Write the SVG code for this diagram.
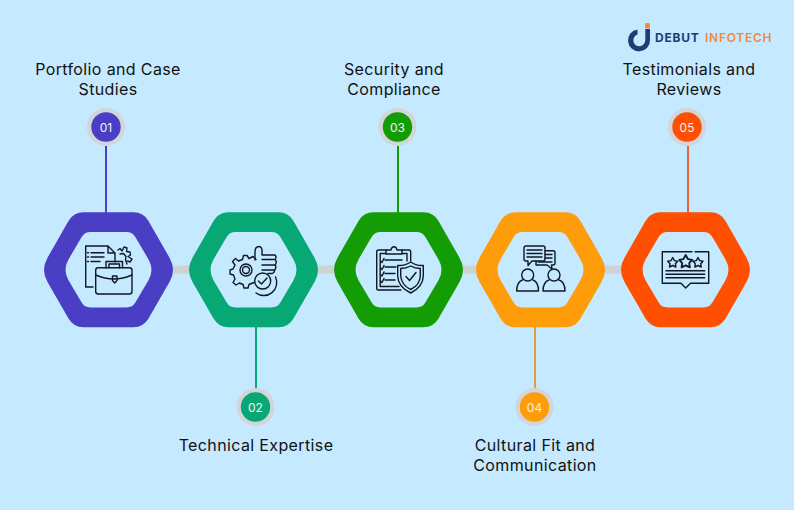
<svg xmlns="http://www.w3.org/2000/svg" width="794" height="510" viewBox="0 0 794 510">
<style>
.lbl{font-family:"Inter","Noto Sans","Liberation Sans",sans-serif;font-size:16px;letter-spacing:.37px;fill:#111;text-anchor:middle}
.num{font-family:"Inter","Noto Sans","Liberation Sans",sans-serif;font-size:12px;fill:#f2f2f8;text-anchor:middle}
.ring{fill:#d0d6da}
.bar{fill:#cdd3d3}
.ic{fill:none;stroke:#101826;stroke-width:1.4;stroke-linejoin:round;stroke-linecap:round}
.stem{stroke-width:2;fill:none}
.logo{font-family:"Inter","Liberation Sans",sans-serif;font-size:12px;font-weight:700;letter-spacing:.75px}
</style>
<defs>
<path id="hex" fill-rule="evenodd" d="M-25-57.5H25Q35-57.5 40-48.8L61-12.1Q68 0 61 12.1L40 48.8Q35 57.5 25 57.5H-25Q-35 57.5-40 48.8L-61 12.1Q-68 0-61-12.1L-40-48.8Q-35-57.5-25-57.5ZM-18-37.7Q-24-37.7-27-32.5L-40-10.4Q-46 0-40 10.4L-27 32.5Q-24 37.7-18 37.7H18Q24 37.7 27 32.5L40 10.4Q46 0 40-10.4L27-32.5Q24-37.7 18-37.7Z"/>
<polygon id="star" points="0,-5 1.7,-1.9 5,-1.3 2.7,1.2 3.2,4.5 0,3 -3.2,4.5 -2.7,1.2 -5,-1.3 -1.7,-1.9"/>
</defs>
<rect width="794" height="510" fill="#c5e9ff"/>
<g id="connectors">
<rect class="bar" x="170" y="265.500" width="22" height="8"/>
<rect class="bar" x="315" y="265.500" width="22" height="8"/>
<rect class="bar" x="460" y="265.500" width="19" height="8"/>
<rect class="bar" x="602" y="265.500" width="22" height="8"/>
<path class="stem" stroke="#4a3fc4" d="M106 146V213"/>
<path class="stem" stroke="#08a875" d="M256 326V388"/>
<path class="stem" stroke="#149c05" d="M398 146V213"/>
<path class="stem" stroke="#e79a38" d="M535 326V388"/>
<path class="stem" stroke="#e8633a" d="M688 146V213"/>
</g>
<g id="logo">
<path d="M637.500 29.500A11 11 0 1 0 650 40V29H645.300V40A6 6 0 1 1 637.500 34.500Z" fill="#1c3f72"/>
<rect x="645" y="23" width="5" height="5.500" rx="1.500" fill="#f08a3c"/>
<text class="logo" x="655" y="42" fill="#1c3f72">DEBUT</text>
<text class="logo" x="705" y="42" fill="#f08a3c" style="font-weight:600">INFOTECH</text>
</g>
<g id="node1">
<use href="#hex" x="108.500" y="269.800" fill="#4a3fc4"/>
<g class="ic">
<path d="M93 287H85.700V246H108L115 253V262M108 246V253H115M91 252.700H104M91 257H104M91 261.500H100M87.500 252.700H88.500M87.500 257H88.500M87.500 261.500H88.500"/>
<path d="M118 250L120 248.500L122 251L124 247L127 248L126.500 251.500L130 252L130.500 255L128 256.500L132 259L130 262L127.500 261M120 254L123.500 253.500L126 256.500L125.500 260L127 264"/>
<rect x="95.700" y="267.700" width="36.300" height="26.300" rx="2.500"/>
<path d="M106 267.700V261.500H122.500V267.700M109 267.700V264H119.500V267.700M95.700 275Q114 283 132 275"/>
<path d="M112.500 276H117V280.500L114.700 283L112.500 280.500Z"/>
</g>
<circle class="ring" cx="106" cy="127" r="19"/><circle cx="106" cy="127" r="14.700" fill="#4a3fc4"/>
<text class="num" x="106" y="131.500">01</text>
<text class="lbl" x="108" y="75">Portfolio and Case</text>
<text class="lbl" x="108" y="95">Studies</text>
</g>
<g id="node2">
<use href="#hex" x="253.500" y="269.800" fill="#08a875"/>
<g class="ic">
<path d="M256 259.500L253 256.500L249 258.500L247 255.500H243.500L242.500 259.500L238.500 261L235.500 258.500L232.500 261.500L235 265L233 269L230 270V274L233.500 275L235 279L233 282.500L236 285L239.500 283L243 284.500L244 288H248L249 284.500L254 282.500"/>
<circle cx="246" cy="270" r="6"/><circle cx="246" cy="270" r="3.500"/>
<path d="M255 260V252Q255 246.500 259 246.500Q262.500 247 262 252V255H275Q277 257 275 259.500Q277.500 262 275 265Q277 267.500 274.500 270Q275 272 272.500 273.500H268M262 259.500H275M262 265H275M262 270H274"/>
<circle cx="262.700" cy="281" r="8"/>
<path d="M258.500 281L261.500 284L267 278M256 293A13 13 0 0 0 275.500 277"/>
</g>
<circle class="ring" cx="255.500" cy="407" r="19"/><circle cx="255.500" cy="407" r="14.700" fill="#08a875"/>
<text class="num" x="255.500" y="411.500">02</text>
<text class="lbl" x="256" y="451">Technical Expertise</text>
</g>
<g id="node3">
<use href="#hex" x="398.500" y="269.800" fill="#149c05"/>
<g class="ic">
<path d="M401 290H378.500Q376.700 290 376.700 288V252Q376.700 250 378.500 250H386M402 250H409Q410.700 250 410.700 252V261M399 286.500H380.200V253.500H386M402 253.500H407V261"/>
<path d="M386 254V250H391Q391.500 246.700 394 246.700Q396.500 246.700 397 250H402V254Z"/>
<path d="M385 260H402M385 267H396M385 273.500H395M385 280H395M380.500 261L382 262.500L384 258.500M380.500 268L382 269.500L384 265.500M380.500 274.500L382 276L384 272M380.500 281L382 282.500L384 278.500"/>
<path d="M410.700 262Q405 266 397.700 265.500V276Q398 287 410.700 293Q423 287 423.300 276V265.500Q416 266 410.700 262Z"/>
<path d="M410.700 266Q406 268.500 400.700 268.500V276Q401.500 285 410.700 289.500Q420 285 420.300 276V268.500Q415 268.500 410.700 266Z"/>
<path d="M406 276.500L409.500 280.500L416 272.500"/>
</g>
<circle class="ring" cx="397.500" cy="127" r="19"/><circle cx="397.500" cy="127" r="14.700" fill="#149c05"/>
<text class="num" x="397.500" y="131.500">03</text>
<text class="lbl" x="394" y="75">Security and</text>
<text class="lbl" x="394" y="95">Compliance</text>
</g>
<g id="node4">
<use href="#hex" x="540.500" y="269.800" fill="#ff9c0a"/>
<g class="ic">
<path d="M526 246H543Q545 246 545 248V259Q545 261 543 261H532L528 265.500V261H526Q524 261 524 259V248Q524 246 526 246Z"/>
<path d="M527 250H542M527 253.500H542M527 257H542"/>
<path d="M545 250.700H553Q555 250.700 555 252.700V263Q555 265 553 265H551.500L552 269L547 265H536V261M545 254.500H552M545 258H552M538 262H552"/>
<circle cx="527.700" cy="275" r="6"/><circle cx="554" cy="275" r="6"/>
<path d="M516.700 291Q516.700 282 522.500 280M533 280Q538.500 282 538.500 291H516.700M543 291Q543 282 549 280M559 280Q565 282 565 291H543"/>
</g>
<circle class="ring" cx="534.500" cy="407" r="19"/><circle cx="534.500" cy="407" r="14.700" fill="#ff9c0a"/>
<text class="num" x="534.500" y="411.500">04</text>
<text class="lbl" x="535" y="451">Cultural Fit and</text>
<text class="lbl" x="535" y="471">Communication</text>
</g>
<g id="node5">
<use href="#hex" x="685.500" y="269.800" fill="#ff4f00"/>
<g class="ic">
<path d="M695 251.700H708.700V283.300H690.500L685.700 288L681 283.300H662.300V251.700H692"/>
<use href="#star" x="672.700" y="262.500"/>
<use href="#star" transform="translate(685.700 261.500) scale(1.300)"/>
<use href="#star" x="698" y="262.500"/>
<path d="M666 270.700H704.700M666 274.200H704.700M666 277.700H704.700"/>
</g>
<circle class="ring" cx="687" cy="127" r="19"/><circle cx="687" cy="127" r="14.700" fill="#ff4f00"/>
<text class="num" x="687" y="131.500">05</text>
<text class="lbl" x="689" y="75">Testimonials and</text>
<text class="lbl" x="689" y="95">Reviews</text>
</g>
</svg>
